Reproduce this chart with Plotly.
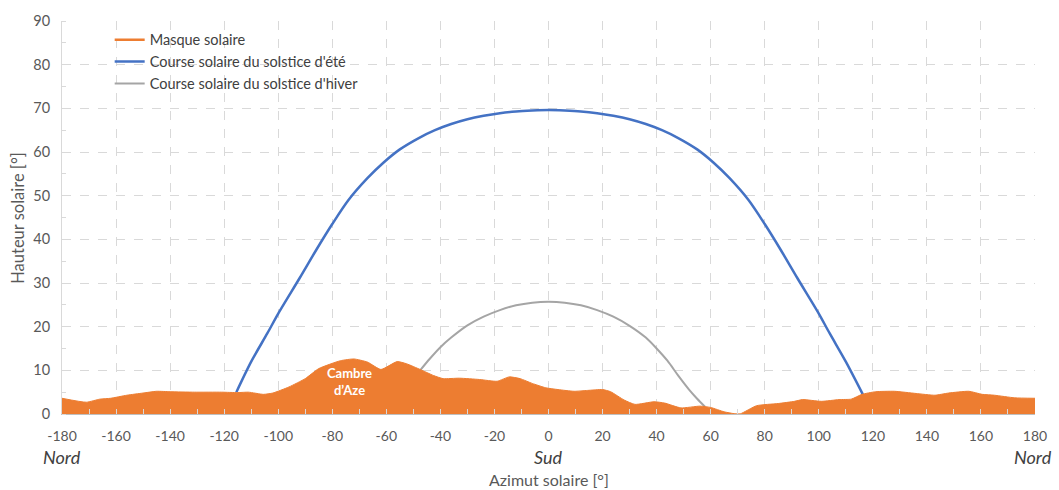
import plotly.graph_objects as go

# ---- data ----
mask_az = [-180, -171, -166, -162, -156, -150, -145, -140, -131, -121, -115, -111,
           -105.5, -102, -96, -90, -85, -77, -72, -67, -62, -56, -52.5, -47.5,
           -42.5, -39, -33, -25.5, -19, -14.5, -10.5, -6, -1, 3.5, 9.5, 14.5, 20,
           23, 28, 32, 39, 43, 49, 56, 60, 65, 69, 71, 77, 85, 91, 94, 101, 107.5,
           112, 116, 121, 128, 136, 143, 148, 155.5, 160.5, 165, 172.5, 180]
mask_h = [3.6, 2.7, 3.4, 3.6, 4.3, 4.8, 5.2, 5.1, 5.0, 5.0, 4.9, 5.0,
          4.5, 4.8, 6.2, 8.1, 10.4, 12.2, 12.6, 11.9, 10.2, 12.0, 11.5, 10.2,
          8.8, 8.1, 8.2, 7.9, 7.5, 8.5, 8.1, 7.0, 6.0, 5.6, 5.2, 5.4, 5.6,
          5.1, 3.2, 2.2, 2.8, 2.5, 1.4, 1.8, 1.5, 0.5, 0.05, 0.05, 1.9, 2.4, 2.9, 3.3, 2.9, 3.3,
          3.4, 4.5, 5.1, 5.2, 4.7, 4.3, 4.8, 5.2, 4.5, 4.3, 3.7, 3.6]

summer_az = [-115.5, -110, -104, -100, -92, -86, -80, -74, -67, -61, -55, -48, -42,
             -36, -30, -24, -18, -12, -6, 0, 6, 12, 18, 24, 30, 36, 42, 48, 55, 61,
             67, 74, 80, 86, 92, 100, 104, 110, 116.3]
summer_h = [5.0, 12.0, 18.5, 23.0, 31.2, 37.5, 43.5, 49.0, 54.0, 57.6, 60.6, 63.2, 65.0,
            66.4, 67.5, 68.3, 68.9, 69.3, 69.5, 69.6, 69.5, 69.3, 68.9, 68.3, 67.5, 66.4,
            65.0, 63.2, 60.6, 57.6, 54.0, 49.0, 43.5, 37.5, 31.2, 23.0, 18.5, 12.0, 4.5]

winter_az = [-47.5, -44, -40, -36, -30, -24, -18, -12, -6, 0, 6, 12, 18, 24, 30, 36,
             40, 44, 48, 52, 55, 58]
winter_h = [10.0, 12.6, 15.3, 17.5, 20.3, 22.3, 23.8, 24.9, 25.5, 25.7, 25.5, 24.9, 23.8,
            22.3, 20.2, 17.5, 15.0, 12.2, 8.8, 5.6, 3.5, 1.6]

x_ticks = list(range(-180, 181, 20))
y_ticks = list(range(0, 91, 10))

ORANGE = "#ED7D31"
BLUE = "#4472C4"
GRAY = "#A5A5A5"
FONT = "Lato"

fig = go.Figure()
# legend-only entry so the mask appears as a line in the legend
fig.add_trace(go.Scatter(x=[None], y=[None], mode="lines", name="Masque solaire",
                         line=dict(color=ORANGE, width=2.5), legendrank=1))
fig.add_trace(go.Scatter(x=summer_az, y=summer_h, mode="lines", name="Course solaire du solstice d'été",
                         line=dict(color=BLUE, width=2.5, shape="spline", smoothing=0.8),
                         legendrank=2))
fig.add_trace(go.Scatter(x=winter_az, y=winter_h, mode="lines", name="Course solaire du solstice d'hiver",
                         line=dict(color=GRAY, width=2, shape="spline", smoothing=0.8),
                         legendrank=3))
fig.add_trace(go.Scatter(x=mask_az, y=mask_h, mode="lines", name="Masque solaire",
                         line=dict(color=ORANGE, width=1, shape="spline", smoothing=0.5),
                         fill="tozeroy", fillcolor=ORANGE, showlegend=False))

fig.update_layout(
    width=1059, height=490,
    margin=dict(l=62, r=22, t=17, b=76),
    paper_bgcolor="white", plot_bgcolor="white",
    font=dict(family=FONT, color="#595959", size=13),
    legend=dict(x=0.049, y=0.993, xanchor="left", yanchor="top", bgcolor="rgba(0,0,0,0)",
                font=dict(size=14.5, color="#404040"), tracegroupgap=0),
    xaxis=dict(range=[-180, 180], tickvals=x_ticks, ticktext=[str(v) for v in x_ticks],
               showgrid=True, gridcolor="#D9D9D9", griddash="dash", gridwidth=1,
               showline=True, linecolor="#BFBFBF", linewidth=1,
               ticks="inside", ticklen=5, tickcolor="#D9D9D9",
               minor=dict(ticks="inside", dtick=10, ticklen=5, tickcolor="#D9D9D9", showgrid=False),
               zeroline=False, tickfont=dict(size=14, color="#595959"), ticklabelstandoff=9),
    yaxis=dict(range=[0, 90], tickvals=y_ticks,
               showgrid=True, gridcolor="#D9D9D9", griddash="dash", gridwidth=1,
               showline=True, linecolor="#D9D9D9", linewidth=1,
               ticks="", minor=dict(ticks="inside", dtick=5, ticklen=4, tickcolor="#D9D9D9", showgrid=False),
               zeroline=False, tickfont=dict(size=14.5, color="#595959"), ticklabelstandoff=8),
)

ann = [
    dict(text="Cambre<br>d’Aze", x=-73.5, y=7.5, xref="x", yref="y", showarrow=False,
         font=dict(family=FONT, size=13, color="white", weight="bold")),
    dict(text="<i>Nord</i>", x=-180, y=-0.11, xref="x", yref="paper", showarrow=False,
         xanchor="center", yanchor="middle", font=dict(family=FONT, size=18, color="#404040")),
    dict(text="<i>Sud</i>", x=0, y=-0.11, xref="x", yref="paper", showarrow=False,
         xanchor="center", yanchor="middle", font=dict(family=FONT, size=18, color="#404040")),
    dict(text="<i>Nord</i>", x=180, y=-0.11, xref="x", yref="paper", showarrow=False, xshift=19,
         xanchor="right", yanchor="middle", font=dict(family=FONT, size=18, color="#404040")),
    dict(text="Azimut solaire [°]", x=0, y=-0.166, xref="x", yref="paper", showarrow=False,
         xanchor="center", yanchor="middle", font=dict(family=FONT, size=16, color="#595959")),
    dict(text="Hauteur solaire [°]", x=-0.046, y=0.5, xref="paper", yref="paper", showarrow=False,
         textangle=-90, xanchor="center", yanchor="middle", font=dict(family=FONT, size=16.5, color="#595959")),
]
fig.update_layout(annotations=ann)

# remove the default page margin so the 1059x490 figure fills the window exactly
fig.write_html("out.html", config={"displayModeBar": False},
               post_script="document.body.style.margin='0';document.body.style.overflow='hidden';")
